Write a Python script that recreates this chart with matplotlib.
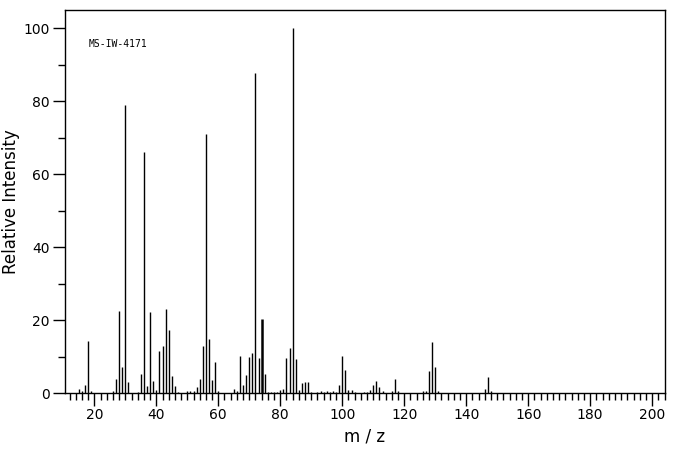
import matplotlib
matplotlib.use("Agg")
import matplotlib.pyplot as plt
from matplotlib.ticker import MultipleLocator

mz = [15,16,17,18,19,26,27,28,29,30,31,34,35,36,37,38,39,40,41,42,43,44,45,46,47,
      50,51,52,53,54,55,56,57,58,59,60,65,66,67,68,69,70,71,72,73,74,75,76,77,78,79,
      80,81,82,83,84,85,86,87,88,89,90,92,93,94,95,96,97,98,99,100,101,102,103,104,
      107,108,109,110,111,112,113,116,117,118,126,127,128,129,130,131,146,147,148]
inten = [1.2,0.6,2.3,14.3,0.6,0.6,3.9,22.6,7.2,79,3.1,0.4,5.3,66,2.0,22.3,3.4,0.9,11.6,13,23.1,17.4,4.7,2.0,0.4,
         0.6,0.6,0.6,1.7,3.9,13,71,14.9,3.7,8.6,0.6,1.2,0.6,10.2,2.3,5.0,10,11,87.7,9.7,20.4,5.3,0.4,0.4,0.4,0.4,
         0.9,1.2,9.7,12.4,100,9.4,0.9,2.8,3.1,3.1,0.4,0.4,0.6,0.4,0.6,0.4,0.6,0.4,2.3,10.2,6.4,0.9,0.9,0.4,
         0.4,0.4,0.9,2.3,3.4,1.7,0.5,0.5,3.9,0.5,0.5,0.5,6.1,14.1,7.2,0.5,1.2,4.5,0.5]
widths = {74: 1.8}

fig = plt.figure(figsize=(6.76, 4.55), dpi=100)
ax = fig.add_axes([0.096, 0.136, 0.888, 0.842])
for m, v in zip(mz, inten):
    ax.vlines(m, 0, v, color="black", linewidth=widths.get(m, 1.0))
ax.set_xlim(10.5, 204.2)
ax.set_ylim(0, 105)
ax.xaxis.set_major_locator(MultipleLocator(20))
ax.xaxis.set_minor_locator(MultipleLocator(2))
ax.yaxis.set_major_locator(MultipleLocator(20))
ax.yaxis.set_minor_locator(MultipleLocator(10))
ax.tick_params(which="major", length=9, width=1, labelsize=10, pad=2)
ax.tick_params(which="minor", length=5, width=1)
for s in ax.spines.values():
    s.set_linewidth(1)
ax.set_xlabel("m / z", fontsize=12)
ax.set_ylabel("Relative Intensity", fontsize=12, labelpad=2)
ax.text(0.04, 0.925, "MS-IW-4171", transform=ax.transAxes, fontsize=7,
        family="DejaVu Sans Mono", va="top")
fig.savefig("out.png", dpi=100)
